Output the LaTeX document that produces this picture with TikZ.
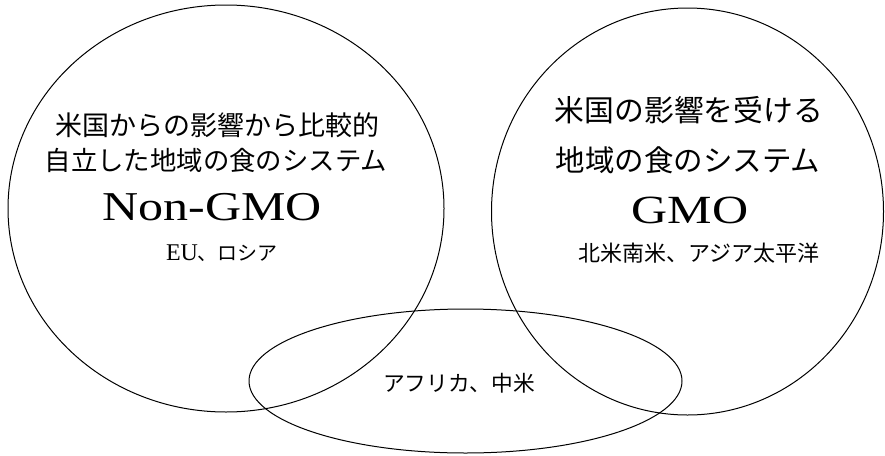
\documentclass[tikz,border=0pt]{standalone}
\usepackage{fontspec}
\usepackage{graphicx}
\setmainfont{Liberation Serif}
\newfontfamily\jpfont{Noto Sans CJK JP}
\tikzset{
  ring/.style={draw, line width=1pt},
  label/.style={inner sep=0pt, anchor=center},
}
\newcommand{\jpsize}[1]{\fontsize{#1}{#1}\selectfont}
\begin{document}
\begin{tikzpicture}[x=1pt,y=-1pt]
\useasboundingbox[fill=white] (0,0) rectangle (885,455);
% circles
\draw[ring] (226,208.5) ellipse [x radius=218, y radius=203.5];
\draw[ring] (687.5,211.5) ellipse [x radius=196, y radius=203.5];
\draw[ring] (465.5,381) ellipse [x radius=216.5, y radius=72];
% left texts
\node[label] (l1) at (217,125) {\jpfont\jpsize{27}米国からの影響から比較的};
\node[label] (l2) at (216,160) {\jpfont\jpsize{26.4}自立した地域の食のシステム};
\node[label] (l3) at (212,207) {\fontsize{41}{41}\selectfont\scalebox{1.22}[1]{Non-GMO}};
\node[label] (l4) at (222,253) {{\fontsize{24}{24}\selectfont EU}{\jpfont\jpsize{20}、ロシア}};
% right texts
\node[label] (r1) at (689,110) {\jpfont\jpsize{29.8}米国の影響を受ける};
\node[label] (r2) at (688,160) {\jpfont\jpsize{29.5}地域の食のシステム};
\node[label] (r3) at (690,210) {\fontsize{40}{40}\selectfont\scalebox{1.25}[1]{GMO}};
\node[label] (r4) at (699,253) {\jpfont\jpsize{22}北米南米、アジア太平洋};
% bottom text
\node[label] (b1) at (459,383) {\jpfont\jpsize{21.7}アフリカ、中米};
\end{tikzpicture}
\end{document}
